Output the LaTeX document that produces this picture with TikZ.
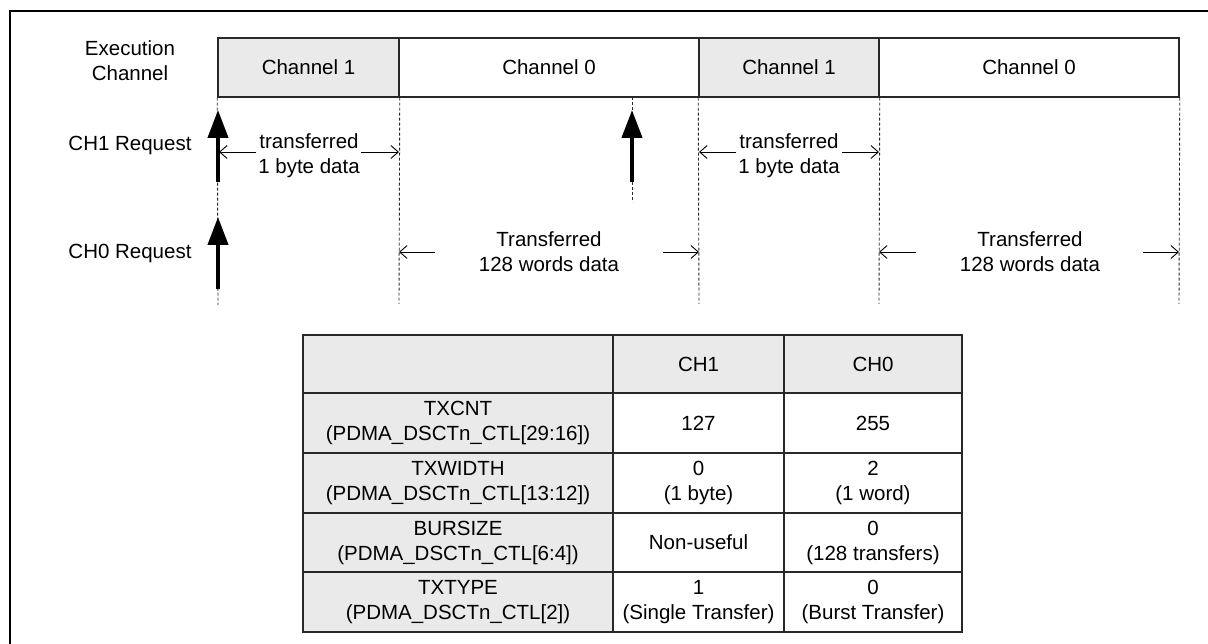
\documentclass[tikz,border=0pt]{standalone}
\usepackage{fontspec}
\setmainfont{Liberation Sans}
\usetikzlibrary{arrows.meta}
\definecolor{cellgray}{RGB}{234,234,234}
\definecolor{linegray}{RGB}{40,40,40}
\begin{document}
\begin{tikzpicture}[x=1pt,y=-1pt,
  every node/.style={font=\fontsize{20.5}{25}\selectfont, inner sep=0pt, align=center},
  chbox/.style={draw=linegray, line width=1.5pt, minimum height=59pt},
  cell/.style={draw=linegray, line width=1.4pt},
  grid/.style={draw=linegray, line width=0.9pt, dash pattern=on 3pt off 2pt},
  req/.style={line width=4.2pt, -{Triangle[length=28pt,width=20pt]}},
  dim/.style={line width=0.9pt, -{Straight Barb[length=7.5pt,width=13pt]}}
]
\useasboundingbox (0,0) rectangle (1208,644);
% outer frame (left and top)
\draw[line width=2pt] (10,650) -- (10,11) -- (1215,11);

% row labels
\node (exe) at (130,61) {Execution\\Channel};
\node (r1) at (130,145) {CH1 Request};
\node (r0) at (130,253) {CH0 Request};

% execution channel boxes
\node[chbox, fill=cellgray, minimum width=181pt] (c1a) at (308.5,67.5) {Channel 1};
\node[chbox, minimum width=300pt] (c0a) at (549,67.5) {Channel 0};
\node[chbox, fill=cellgray, minimum width=180pt] (c1b) at (789,67.5) {Channel 1};
\node[chbox, minimum width=300pt] (c0b) at (1029,67.5) {Channel 0};

% dashed guides
\coordinate (g1) at (218,305);
\coordinate (g2) at (399,304);
\coordinate (g3) at (632,202);
\coordinate (g4) at (699,304);
\coordinate (g5) at (879,304);
\coordinate (g6) at (1179,304);
\draw[grid] (c1a.south west) -- (g1);
\draw[grid] (c1a.south east) -- (g2);
\draw[grid] (632,97) -- (g3);
\draw[grid] (c1b.south west) -- (g4);
\draw[grid] (c1b.south east) -- (g5);
\draw[grid] (c0b.south east) -- (g6);

% request arrows
\coordinate (a1s) at (218,182); \coordinate (a1e) at (218,110);
\coordinate (a2s) at (218,289); \coordinate (a2e) at (218,217);
\coordinate (a3s) at (632,182); \coordinate (a3e) at (632,110);
\draw[req] (a1s) -- (a1e);
\draw[req] (a2s) -- (a2e);
\draw[req] (a3s) -- (a3e);

% transfer labels
\node (t1) at (309,156) {transferred\\1 byte data};
\node (t2) at (789,156) {transferred\\1 byte data};
\node (t3) at (549,252) {Transferred\\128 words data};
\node (t4) at (1030,252) {Transferred\\128 words data};

\coordinate (d1a) at (256,152); \coordinate (d1b) at (219,152);
\coordinate (d1c) at (361,152); \coordinate (d1d) at (399,152);
\coordinate (d2a) at (736,152); \coordinate (d2b) at (699,152);
\coordinate (d2c) at (842,152); \coordinate (d2d) at (879,152);
\coordinate (d3a) at (435,252); \coordinate (d3b) at (399,252);
\coordinate (d3c) at (663,252); \coordinate (d3d) at (699,252);
\coordinate (d4a) at (916,252); \coordinate (d4b) at (879,252);
\coordinate (d4c) at (1143,252); \coordinate (d4d) at (1179,252);
\draw[dim] (d1a) -- (d1b);
\draw[dim] (d1c) -- (d1d);
\draw[dim] (d2a) -- (d2b);
\draw[dim] (d2c) -- (d2d);
\draw[dim] (d3a) -- (d3b);
\draw[dim] (d3c) -- (d3d);
\draw[dim] (d4a) -- (d4b);
\draw[dim] (d4c) -- (d4d);

% table
\node[cell, fill=cellgray, minimum width=310pt, minimum height=58pt] (h0) at (458,364) {};
\node[cell, fill=cellgray, minimum width=171pt, minimum height=58pt] (h1) at (698.5,364) {CH1};
\node[cell, fill=cellgray, minimum width=178pt, minimum height=58pt] (h2) at (873,364) {CH0};

\node[cell, fill=cellgray, minimum width=310pt, minimum height=60pt] (a0) at (458,423) {TXCNT\\(PDMA\_DSCTn\_CTL[29:16])};
\node[cell, minimum width=171pt, minimum height=60pt] (a1) at (698.5,423) {127};
\node[cell, minimum width=178pt, minimum height=60pt] (a2) at (873,423) {255};

\node[cell, fill=cellgray, minimum width=310pt, minimum height=60pt] (b0) at (458,483) {TXWIDTH\\(PDMA\_DSCTn\_CTL[13:12])};
\node[cell, minimum width=171pt, minimum height=60pt] (b1) at (698.5,483) {0\\(1 byte)};
\node[cell, minimum width=178pt, minimum height=60pt] (b2) at (873,483) {2\\(1 word)};

\node[cell, fill=cellgray, minimum width=310pt, minimum height=59pt] (c0) at (458,542.5) {BURSIZE\\(PDMA\_DSCTn\_CTL[6:4])};
\node[cell, minimum width=171pt, minimum height=59pt] (c1) at (698.5,542.5) {Non-useful};
\node[cell, minimum width=178pt, minimum height=59pt] (c2) at (873,542.5) {0\\(128 transfers)};

\node[cell, fill=cellgray, minimum width=310pt, minimum height=60pt] (e0) at (458,602) {TXTYPE\\(PDMA\_DSCTn\_CTL[2])};
\node[cell, minimum width=171pt, minimum height=60pt] (e1) at (698.5,602) {1\\(Single Transfer)};
\node[cell, minimum width=178pt, minimum height=60pt] (e2) at (873,602) {0\\(Burst Transfer)};
\end{tikzpicture}
\end{document}
